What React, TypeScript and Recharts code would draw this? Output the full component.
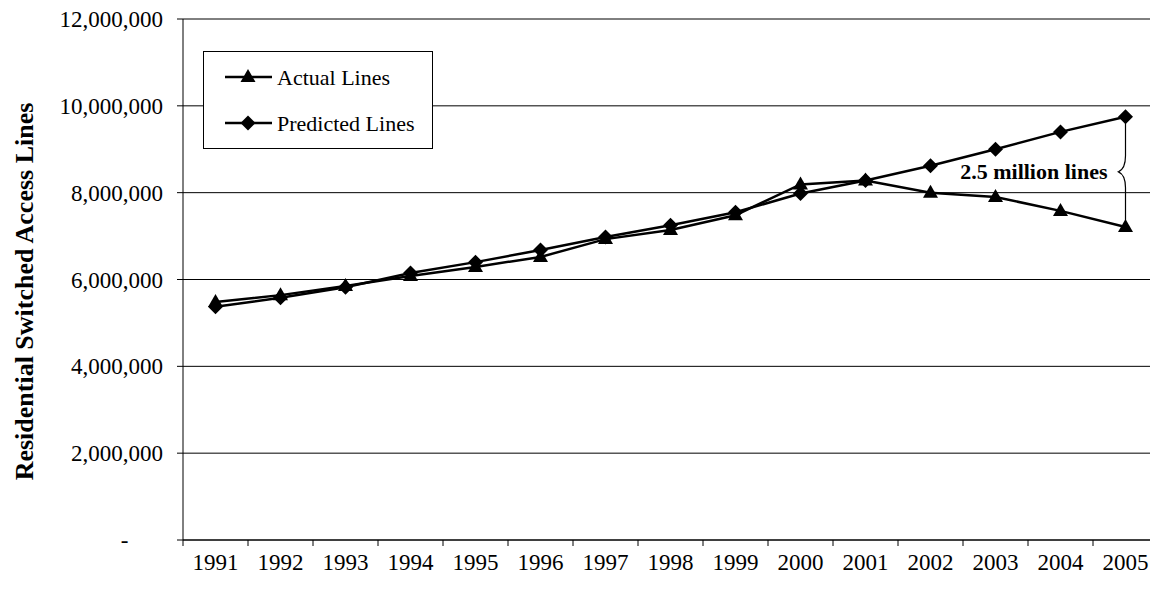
import { LineChart, Line, XAxis, YAxis, CartesianGrid, Legend, ReferenceLine } from 'recharts';

const years = [1991, 1992, 1993, 1994, 1995, 1996, 1997, 1998, 1999, 2000, 2001, 2002, 2003, 2004, 2005];
const actualLines = [5480000, 5640000, 5850000, 6080000, 6290000, 6520000, 6930000, 7140000, 7480000, 8190000, 8280000, 8000000, 7900000, 7580000, 7210000];
const predictedLines = [5370000, 5580000, 5820000, 6150000, 6400000, 6680000, 6980000, 7250000, 7550000, 7980000, 8280000, 8620000, 9000000, 9400000, 9750000];
const yTicks = [0, 2000000, 4000000, 6000000, 8000000, 10000000, 12000000];
const gapLabel = '2.5 million lines';
const yTitle = 'Residential Switched Access Lines';

const FONT = "'Liberation Serif', 'Times New Roman', serif";
const TICK_SIZE = 6;
const TICK_MARGIN = 8;

// year labels sit in the middle of each band, tick marks on the band edges
const bandEdges = [...years.map((y) => y - 0.5), years[years.length - 1] + 0.5];
const xTicks = [...bandEdges, ...years].sort((a, b) => a - b);

const data = years.map((year, i) => ({
  year,
  actual: actualLines[i],
  predicted: predictedLines[i],
}));

const last = data[data.length - 1];

const Triangle = ({ cx, cy }: { cx: number; cy: number }) => (
  <polygon points={`${cx},${cy - 8} ${cx + 7.5},${cy + 5} ${cx - 7.5},${cy + 5}`} fill="#000" />
);

const Diamond = ({ cx, cy }: { cx: number; cy: number }) => (
  <polygon points={`${cx},${cy - 7.5} ${cx + 7.5},${cy} ${cx},${cy + 7.5} ${cx - 7.5},${cy}`} fill="#000" />
);

const XTick = (props: any) => {
  const { x, y, payload } = props;
  const v = payload.value;
  if (Number.isInteger(v)) {
    return (
      <text x={x} y={y} dy="0.71em" textAnchor="middle" fontFamily={FONT} fontSize={23} fill="#000">
        {v}
      </text>
    );
  }
  return <line x1={x} x2={x} y1={y - TICK_MARGIN - TICK_SIZE} y2={y - TICK_MARGIN} stroke="#000" />;
};

const formatY = (v: number) => (v === 0 ? '-' + '\u00a0'.repeat(6) : v.toLocaleString('en-US'));

const YTitle = (props: any) => {
  const vb = props.viewBox;
  const x = vb.x + 16;
  const y = vb.y + vb.height / 2 + 12;
  return (
    <text
      x={x}
      y={y}
      transform={`rotate(-90, ${x}, ${y})`}
      textAnchor="middle"
      dominantBaseline="central"
      fontFamily={FONT}
      fontWeight="bold"
      fontSize={26}
      fill="#000"
    >
      {yTitle}
    </text>
  );
};

const LegendBox = (props: any) => {
  const payload = props.payload || [];
  return (
    <svg width={230} height={98}>
      <rect x={0.5} y={0.5} width={229} height={97} fill="#fff" stroke="#000" />
      {payload.map((entry: any, i: number) => {
        const cy = 26 + i * 46;
        return (
          <g key={entry.value}>
            <line x1={22} x2={69} y1={cy} y2={cy} stroke="#000" strokeWidth={2.5} />
            {entry.dataKey === 'actual' ? <Triangle cx={45} cy={cy} /> : <Diamond cx={45} cy={cy} />}
            <text x={74} y={cy} dominantBaseline="central" fontFamily={FONT} fontSize={22} fill="#000">
              {entry.value}
            </text>
          </g>
        );
      })}
    </svg>
  );
};

// vertical bracket between the two 2005 values, with the gap label
const GapBracket = (props: any) => {
  const { x1, y1, y2 } = props;
  const mid = (y1 + y2) / 2;
  return (
    <g>
      <path
        d={`M${x1},${y1} L${x1},${mid - 16} Q${x1},${mid - 3} ${x1 - 7},${mid} Q${x1},${mid + 3} ${x1},${mid + 16} L${x1},${y2}`}
        fill="none"
        stroke="#000"
        strokeWidth={1.2}
      />
      <text
        x={x1 - 18}
        y={mid}
        textAnchor="end"
        dominantBaseline="central"
        fontFamily={FONT}
        fontWeight="bold"
        fontSize={22}
        fill="#000"
      >
        {gapLabel}
      </text>
    </g>
  );
};

export default function App() {
  return (
    <LineChart width={1150} height={582} data={data} margin={{ top: 11, right: 0, bottom: 0, left: 0 }}>
      <CartesianGrid vertical={false} stroke="#000" strokeWidth={1} />
      <XAxis
        dataKey="year"
        type="number"
        domain={[bandEdges[0], bandEdges[bandEdges.length - 1]]}
        ticks={xTicks}
        interval={0}
        tick={<XTick />}
        tickLine={false}
        tickSize={TICK_SIZE}
        tickMargin={TICK_MARGIN}
        axisLine={{ stroke: '#000' }}
        height={50}
      />
      <YAxis
        domain={[0, 12000000]}
        ticks={yTicks}
        interval={0}
        tickFormatter={formatY}
        width={175}
        tickSize={6}
        tickMargin={14}
        tick={{ fontFamily: FONT, fontSize: 23, fill: '#000' }}
        tickLine={{ stroke: '#000' }}
        axisLine={{ stroke: '#000' }}
        label={{ content: YTitle }}
      />
      <Legend
        content={LegendBox}
        layout="vertical"
        align="center"
        verticalAlign="middle"
        wrapperStyle={{ left: 195, top: 43, width: 230, height: 98 }}
      />
      <ReferenceLine
        segment={[
          { x: last.year, y: last.predicted },
          { x: last.year, y: last.actual },
        ]}
        shape={GapBracket}
      />
      <Line
        type="linear"
        dataKey="actual"
        name="Actual Lines"
        stroke="#000"
        strokeWidth={2.5}
        dot={(p: any) => <Triangle key={`a-${p.index}`} cx={p.cx} cy={p.cy} />}
        isAnimationActive={false}
      />
      <Line
        type="linear"
        dataKey="predicted"
        name="Predicted Lines"
        stroke="#000"
        strokeWidth={2.5}
        dot={(p: any) => <Diamond key={`p-${p.index}`} cx={p.cx} cy={p.cy} />}
        isAnimationActive={false}
      />
    </LineChart>
  );
}
